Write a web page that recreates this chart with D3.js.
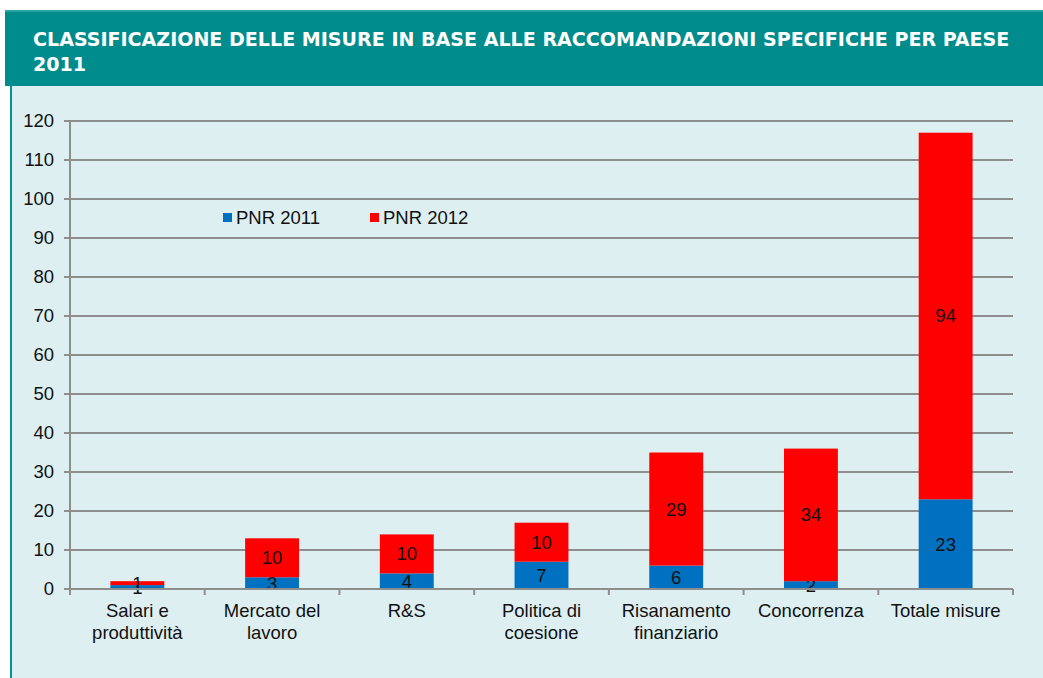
<!DOCTYPE html>
<html>
<head>
<meta charset="utf-8">
<script src="https://cdn.jsdelivr.net/npm/d3@7"></script>
<style>
  body { margin: 0; background: #fff; }
  svg { display: block; }
</style>
</head>
<body>
<div id="chart"></div>
<script>
// categories and values
const categories = [
  "Salari e|produttività",
  "Mercato del|lavoro",
  "R&S",
  "Politica di|coesione",
  "Risanamento|finanziario",
  "Concorrenza",
  "Totale misure",
];
const pnr2011 = [1, 3, 4, 7, 6, 2, 23];
const pnr2012 = [1, 10, 10, 10, 29, 34, 94];
const seriesNames = ["PNR 2011", "PNR 2012"];
const yTicks = d3.range(0, 121, 10);

const width = 1043;
const height = 678;
const margin = { top: 121, right: 30, bottom: 89, left: 70 };
const font = "'Liberation Sans', Arial, sans-serif";
const fontSize = "18.5px";

const svg = d3
  .select("#chart")
  .append("svg")
  .attr("width", width)
  .attr("height", height);

// panel background
svg.append("rect")
  .attr("x", 10).attr("y", 86)
  .attr("width", width - 10).attr("height", height - 86)
  .attr("fill", "#deeff2");
svg.append("rect")
  .attr("x", 10).attr("y", 86)
  .attr("width", 2).attr("height", height - 86)
  .attr("fill", "#009494");

// header band
svg.append("rect")
  .attr("x", 5).attr("y", 10)
  .attr("width", width - 5).attr("height", 76)
  .attr("fill", "#008c8c");
svg.append("rect")
  .attr("x", 5).attr("y", 10)
  .attr("width", width - 5).attr("height", 2)
  .attr("fill", "#2aa3a3");

// title, stretched to the width of the original condensed face
const title = svg.append("text")
  .attr("fill", "#fff")
  .style("font-family", "'DejaVu Sans Condensed', 'DejaVu Sans', sans-serif")
  .style("font-weight", "bold")
  .style("font-size", "20px");
const line1 = title.append("tspan").attr("x", 0).attr("y", 46)
  .text("CLASSIFICAZIONE DELLE MISURE IN BASE ALLE RACCOMANDAZIONI SPECIFICHE PER PAESE");
title.append("tspan").attr("x", 0).attr("y", 71).text("2011");
const tw = line1.node().getComputedTextLength();
title.attr("transform", `translate(33,0) scale(${977 / tw},1)`);

const innerW = width - margin.left - margin.right;
const innerH = height - margin.top - margin.bottom;

const g = svg.append("g")
  .attr("transform", `translate(${margin.left},${margin.top})`);

const x = d3.scaleBand()
  .domain(categories)
  .range([0, innerW])
  .paddingInner(0.6)
  .paddingOuter(0.3);

const y = d3.scaleLinear().domain([0, 120]).range([innerH, 0]);

// gridlines
g.append("g")
  .selectAll("line")
  .data(yTicks)
  .join("line")
  .attr("x1", -6)
  .attr("x2", innerW)
  .attr("y1", (d) => y(d))
  .attr("y2", (d) => y(d))
  .attr("stroke", "#8e8e8e")
  .attr("stroke-width", 2);

// y axis labels
g.append("g")
  .selectAll("text")
  .data(yTicks)
  .join("text")
  .attr("x", -16)
  .attr("y", (d) => y(d))
  .attr("dy", "0.35em")
  .attr("text-anchor", "end")
  .style("font-family", font)
  .style("font-size", fontSize)
  .attr("fill", "#111")
  .text((d) => d);

// y axis line
g.append("line")
  .attr("x1", 0).attr("x2", 0)
  .attr("y1", 0).attr("y2", innerH)
  .attr("stroke", "#8e8e8e")
  .attr("stroke-width", 2);

// stacked data
const rows = categories.map((c, i) => ({ cat: c, a: pnr2011[i], b: pnr2012[i] }));
const stack = d3.stack().keys(["a", "b"])(rows);
const colors = ["#0070c0", "#ff0000"];

const layers = g.append("g")
  .selectAll("g")
  .data(stack)
  .join("g")
  .attr("fill", (d, i) => colors[i]);

layers.selectAll("rect")
  .data((d) => d)
  .join("rect")
  .attr("x", (d) => x(d.data.cat))
  .attr("width", x.bandwidth())
  .attr("y", (d) => y(d[1]))
  .attr("height", (d) => y(d[0]) - y(d[1]));

// value labels
layers.selectAll("text")
  .data((d) => d)
  .join("text")
  .attr("x", (d) => x(d.data.cat) + x.bandwidth() / 2)
  .attr("y", (d) => (y(d[0]) + y(d[1])) / 2)
  .attr("dy", "0.35em")
  .attr("text-anchor", "middle")
  .attr("fill", "#111")
  .style("font-family", font)
  .style("font-size", fontSize)
  .text((d) => d[1] - d[0]);

// x axis line + ticks
g.append("line")
  .attr("x1", 0).attr("x2", innerW)
  .attr("y1", innerH).attr("y2", innerH)
  .attr("stroke", "#8e8e8e")
  .attr("stroke-width", 2);

const step = innerW / categories.length;
g.append("g")
  .selectAll("line")
  .data(d3.range(categories.length + 1))
  .join("line")
  .attr("x1", (d) => d * step)
  .attr("x2", (d) => d * step)
  .attr("y1", innerH)
  .attr("y2", innerH + 6)
  .attr("stroke", "#8e8e8e")
  .attr("stroke-width", 2);

// category labels
const catLabels = g.append("g")
  .selectAll("text")
  .data(categories)
  .join("text")
  .attr("text-anchor", "middle")
  .attr("fill", "#111")
  .style("font-family", font)
  .style("font-size", fontSize);

catLabels.selectAll("tspan")
  .data((d) => d.split("|").map((t, i) => ({ t, i, cat: d })))
  .join("tspan")
  .attr("x", (d) => x(d.cat) + x.bandwidth() / 2)
  .attr("y", (d) => innerH + 28 + d.i * 22)
  .text((d) => d.t);

// legend
const legend = svg.append("g")
  .selectAll("g")
  .data(seriesNames)
  .join("g")
  .attr("transform", (d, i) => `translate(${223 + i * 147},213)`);
legend.append("rect")
  .attr("width", 9).attr("height", 9)
  .attr("fill", (d, i) => colors[i]);
legend.append("text")
  .attr("x", 13).attr("y", 11)
  .attr("fill", "#111")
  .style("font-family", font)
  .style("font-size", fontSize)
  .text((d) => d);
</script>
</body>
</html>
